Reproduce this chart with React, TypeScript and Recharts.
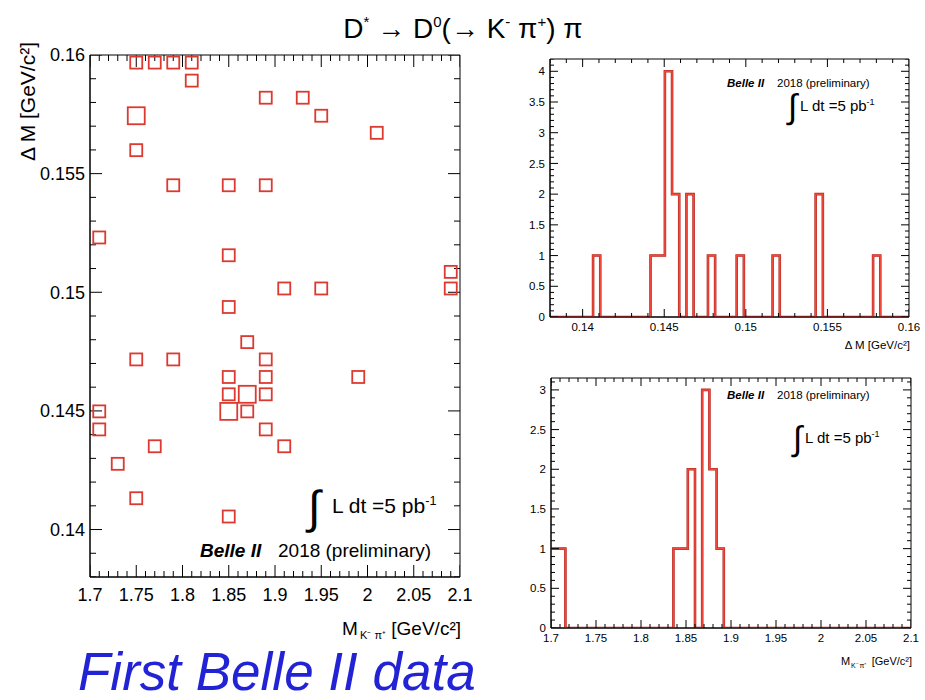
import React from 'react';
import { ScatterChart, Scatter, ComposedChart, Line, XAxis, YAxis, ReferenceArea } from 'recharts';

const FONT = '"Liberation Sans", Arial, Helvetica, sans-serif';
const RED = '#dc3a30';

// 2D histogram boxes: M(K pi) [GeV/c2], delta M [GeV/c2], entries
const boxM = [
  1.75, 1.77, 1.79, 1.81, 1.81, 1.89, 1.93, 1.75, 1.95, 2.01,
  1.75, 1.79, 1.85, 1.89, 1.71, 1.85, 2.09, 2.09, 1.91, 1.95,
  1.85, 1.87, 1.75, 1.79, 1.89, 1.85, 1.89, 1.99, 1.85, 1.87,
  1.89, 1.85, 1.87, 1.71, 1.71, 1.89, 1.77, 1.91, 1.73, 1.75,
  1.85,
];
const boxDM = [
  0.15968, 0.15968, 0.15968, 0.15968, 0.15892, 0.1582, 0.1582, 0.15744, 0.15744, 0.15672,
  0.15599, 0.15451, 0.15451, 0.15451, 0.15231, 0.15156, 0.15086, 0.15016, 0.15016, 0.15016,
  0.14938, 0.1479, 0.14717, 0.14717, 0.14717, 0.14643, 0.14643, 0.14643, 0.1457, 0.1457,
  0.1457, 0.14498, 0.14498, 0.14498, 0.14422, 0.14422, 0.14351, 0.14351, 0.14277, 0.14132,
  0.14055,
];
const boxN = [
  1, 1, 1, 1, 1, 1, 1, 2, 1, 1,
  1, 1, 1, 1, 1, 1, 1, 1, 1, 1,
  1, 1, 1, 1, 1, 1, 1, 1, 1, 2,
  1, 2, 1, 1, 1, 1, 1, 1, 1, 1,
  1,
];

// delta M projection: 50 bins from 0.138 to 0.16
const DM_LO = 0.138;
const DM_HI = 0.16;
const dmCounts = [
  0, 0, 0, 0, 0, 0, 1, 0, 0, 0,
  0, 0, 0, 0, 1, 1, 4, 2, 0, 2,
  0, 0, 1, 0, 0, 0, 1, 0, 0, 0,
  0, 1, 0, 0, 0, 0, 0, 2, 0, 0,
  0, 0, 0, 0, 0, 1, 0, 0, 0, 0,
];

// M(K pi) projection: 50 bins from 1.7 to 2.1
const M_LO = 1.7;
const M_HI = 2.1;
const mCounts = [
  1, 1, 0, 0, 0, 0, 0, 0, 0, 0,
  0, 0, 0, 0, 0, 0, 0, 1, 1, 2,
  0, 3, 2, 1, 0, 0, 0, 0, 0, 0,
  0, 0, 0, 0, 0, 0, 0, 0, 0, 0,
  0, 0, 0, 0, 0, 0, 0, 0, 0, 0,
];

// tick labels
const mTicks = [1.7, 1.75, 1.8, 1.85, 1.9, 1.95, 2, 2.05, 2.1];
const dmTicksScatter = [0.14, 0.145, 0.15, 0.155, 0.16];
const dmTicksHist = [0.14, 0.145, 0.15, 0.155, 0.16];
const dmCountTicks = [0, 0.5, 1, 1.5, 2, 2.5, 3, 3.5, 4];
const mCountTicks = [0, 0.5, 1, 1.5, 2, 2.5, 3];

const r6 = (v: number) => Math.round(v * 1e6) / 1e6;
const steps = (lo: number, hi: number, step: number) => {
  const out: number[] = [];
  for (let i = 0; lo + i * step <= hi + 1e-9; i++) out.push(r6(lo + i * step));
  return out;
};
const isIn = (arr: number[], v: number) => arr.some((t) => Math.abs(t - v) < 1e-7);

const boxes = boxM.map((m, i) => ({ m, dm: boxDM[i], n: boxN[i] }));

function histPoints(counts: number[], lo: number, hi: number) {
  const w = (hi - lo) / counts.length;
  const pts = counts.map((c, i) => ({ x: r6(lo + i * w), y: c }));
  pts.push({ x: hi, y: 0 });
  return pts;
}

// anchor points for the frame ticks on all four sides
function framePoints(xk: string, yk: string, xs: number[], ys: number[], xMaj: number[], yMaj: number[],
  xr: number[], yr: number[]) {
  const pts: any[] = [];
  xs.forEach((v) => {
    const major = isIn(xMaj, v);
    pts.push({ [xk]: v, [yk]: yr[0], side: 'b', major });
    pts.push({ [xk]: v, [yk]: yr[1], side: 't', major });
  });
  ys.forEach((v) => {
    const major = isIn(yMaj, v);
    pts.push({ [xk]: xr[0], [yk]: v, side: 'l', major });
    pts.push({ [xk]: xr[1], [yk]: v, side: 'r', major });
  });
  return pts;
}

const tickShape = (maj: number, min: number) => (props: any) => {
  const { cx, cy, payload } = props;
  const len = payload.major ? maj : min;
  let x2 = cx, y2 = cy;
  if (payload.side === 'b') y2 = cy - len;
  else if (payload.side === 't') y2 = cy + len;
  else if (payload.side === 'l') x2 = cx + len;
  else x2 = cx - len;
  return <line x1={cx} y1={cy} x2={x2} y2={y2} stroke="#000" strokeWidth={1} />;
};

function labelTick(side: string, majors: number[], fs: number, off: number) {
  return (props: any) => {
    const x = Number(props.x);
    const y = Number(props.y);
    const v = Number(props.payload?.value);
    if (!isIn(majors, v)) return <g />;
    if (side === 'bottom') {
      return <text x={x} y={y + off} textAnchor="middle" fontSize={fs} fontFamily={FONT} fill="#000">{String(v)}</text>;
    }
    return <text x={x - off} y={y + fs * 0.36} textAnchor="end" fontSize={fs} fontFamily={FONT} fill="#000">{String(v)}</text>;
  };
}

const BoxShape = (props: any) => {
  const { cx, cy, payload } = props;
  const s = 12 * Math.sqrt(payload.n);
  return <rect x={cx - s / 2} y={cy - s / 2} width={s} height={s} fill="none" stroke={RED} strokeWidth={1.8} />;
};

const axisCommon = { tickLine: false, tickSize: 0, tickMargin: 0, interval: 0 as const, allowDataOverflow: true, axisLine: { stroke: '#000' } };

function Scatter2D() {
  const xAll = steps(M_LO, M_HI, 0.01);
  const yAll = steps(0.138, 0.16, 0.001);
  const frame = framePoints('m', 'dm', xAll, yAll, mTicks, dmTicksScatter, [M_LO, M_HI], [0.138, 0.16]);
  return (
    <ScatterChart width={480} height={607} margin={{ top: 55, right: 20, bottom: 0, left: 0 }}>
      <XAxis {...axisCommon} type="number" dataKey="m" domain={[M_LO, M_HI]} ticks={xAll} height={30}
        tick={labelTick('bottom', mTicks, 18, 24)} />
      <YAxis {...axisCommon} type="number" dataKey="dm" domain={[0.138, 0.16]} ticks={yAll} width={90}
        tick={labelTick('left', dmTicksScatter, 18, 5)} />
      <ReferenceArea x1={M_LO} x2={M_HI} y1={0.138} y2={0.16} fill="none" fillOpacity={0} stroke="#000" strokeWidth={1} ifOverflow="visible" />
      <Scatter data={frame} shape={tickShape(12, 6)} isAnimationActive={false} />
      <Scatter data={boxes} shape={BoxShape} isAnimationActive={false} />
    </ScatterChart>
  );
}

function Hist(props: { data: any[]; lo: number; hi: number; xMajors: number[]; xMinor: number; yMax: number; yMajors: number[];
  width: number; height: number; margin: any; bottomH: number }) {
  const { data, lo, hi, xMajors, xMinor, yMax, yMajors, width, height, margin, bottomH } = props;
  const xAll = steps(lo, hi, xMinor);
  const yAll = steps(0, yMax, 0.1);
  const frame = framePoints('x', 'y', xAll, yAll, xMajors, yMajors, [lo, hi], [0, yMax]);
  return (
    <ComposedChart width={width} height={height} margin={margin} data={data}>
      <XAxis {...axisCommon} type="number" dataKey="x" domain={[lo, hi]} ticks={xAll} height={bottomH}
        tick={labelTick('bottom', xMajors, 11.5, 13.5)} />
      <YAxis {...axisCommon} type="number" dataKey="y" domain={[0, yMax]} ticks={yAll} width={90}
        tick={labelTick('left', yMajors, 11.5, 5)} />
      <ReferenceArea x1={lo} x2={hi} y1={0} y2={yMax} fill="none" fillOpacity={0} stroke="#000" strokeWidth={1} ifOverflow="visible" />
      <Scatter data={frame} shape={tickShape(8, 4)} isAnimationActive={false} />
      <Line type="stepAfter" dataKey="y" stroke="#b3261e" strokeWidth={2.6} dot={false} isAnimationActive={false} />
      <Line type="stepAfter" dataKey="y" stroke="#f2483c" strokeWidth={1.5} dot={false} isAnimationActive={false} />
    </ComposedChart>
  );
}

function Lumi(props: { x: number; y: number; fs: number; intFs: number; gap: number }) {
  const { x, y, fs, intFs, gap } = props;
  return (
    <g fontFamily={FONT} fill="#000">
      <text x={x} y={y + intFs * 0.22} fontSize={intFs}>∫</text>
      <text x={x + gap} y={y} fontSize={fs}>
        L dt =5 pb<tspan dy={-fs * 0.4} fontSize={fs * 0.6}>-1</tspan>
      </text>
    </g>
  );
}

function BelleTag(props: { x: number; x2: number; y: number; fs: number }) {
  const { x, x2, y, fs } = props;
  return (
    <g fontFamily={FONT} fill="#000" fontSize={fs}>
      <text x={x} y={y} fontWeight="bold" fontStyle="italic">Belle II</text>
      <text x={x2} y={y}>2018 (preliminary)</text>
    </g>
  );
}

// M_{K- pi+} [GeV/c2] axis title, as separate pieces
function MassTitle(props: { xM: number; xSub: number; xEnd: number; y: number; fs: number; subFs: number; drop: number }) {
  const { xM, xSub, xEnd, y, fs, subFs, drop } = props;
  return (
    <g fontFamily={FONT} fill="#000">
      <text x={xM} y={y} fontSize={fs}>M</text>
      <text x={xSub} y={y + drop} fontSize={subFs}>K⁻ π⁺</text>
      <text x={xEnd} y={y} fontSize={fs} textAnchor="end">[GeV/c²]</text>
    </g>
  );
}

export default function App() {
  const dmHist = histPoints(dmCounts, DM_LO, DM_HI);
  const mHist = histPoints(mCounts, M_LO, M_HI);
  return (
    <div style={{ position: 'absolute', left: 0, top: 0, width: 925, height: 700, background: '#fff', overflow: 'hidden' }}>
      <div style={{ position: 'absolute', left: 0, top: 0 }}>
        <Scatter2D />
      </div>
      <div style={{ position: 'absolute', left: 460, top: 0 }}>
        <Hist data={dmHist} lo={DM_LO} hi={DM_HI} xMajors={dmTicksHist} xMinor={0.001} yMax={4.2} yMajors={dmCountTicks}
          width={465} height={340} margin={{ top: 59, right: 16, bottom: 0, left: 0 }} bottomH={23} />
      </div>
      <div style={{ position: 'absolute', left: 461, top: 340 }}>
        <Hist data={mHist} lo={M_LO} hi={M_HI} xMajors={mTicks} xMinor={0.01} yMax={3.15} yMajors={mCountTicks}
          width={464} height={310} margin={{ top: 38, right: 14, bottom: 0, left: 0 }} bottomH={22} />
      </div>
      <svg width={925} height={700} style={{ position: 'absolute', left: 0, top: 0, pointerEvents: 'none' }}>
        <text x={463} y={38} textAnchor="middle" fontFamily={FONT} fontSize={28} fill="#000">
          D<tspan dy={-11} fontSize={15}>*</tspan><tspan dy={11}> → D</tspan><tspan dy={-11} fontSize={15}>0</tspan>
          <tspan dy={11}>(→ K</tspan><tspan dy={-11} fontSize={15}>-</tspan><tspan dy={11}> π</tspan>
          <tspan dy={-11} fontSize={15}>+</tspan><tspan dy={11}>) π</tspan>
        </text>

        <text transform="translate(35,42) rotate(-90)" textAnchor="end" fontFamily={FONT} fontSize={21} fill="#000">
          Δ M [GeV/c²]
        </text>
        <MassTitle xM={342} xSub={360} xEnd={461} y={635} fs={19} subFs={11} drop={4} />
        <Lumi x={308} y={513} fs={21} intFs={46} gap={24} />
        <BelleTag x={200} x2={278} y={557} fs={19} />

        <text x={910} y={349} textAnchor="end" fontFamily={FONT} fontSize={11.5} fill="#000">
          Δ M [GeV/c²]
        </text>
        <Lumi x={788} y={111} fs={15} intFs={34} gap={12} />
        <BelleTag x={727} x2={777} y={87} fs={11.5} />

        <MassTitle xM={841} xSub={851} xEnd={912} y={665} fs={11} subFs={7} drop={3} />
        <Lumi x={793} y={443} fs={15} intFs={34} gap={12} />
        <BelleTag x={727} x2={777} y={399} fs={11.5} />

        <text x={78} y={690} fontFamily={FONT} fontSize={53} fontStyle="italic" fill="#2323d6">First Belle II data</text>
      </svg>
    </div>
  );
}
